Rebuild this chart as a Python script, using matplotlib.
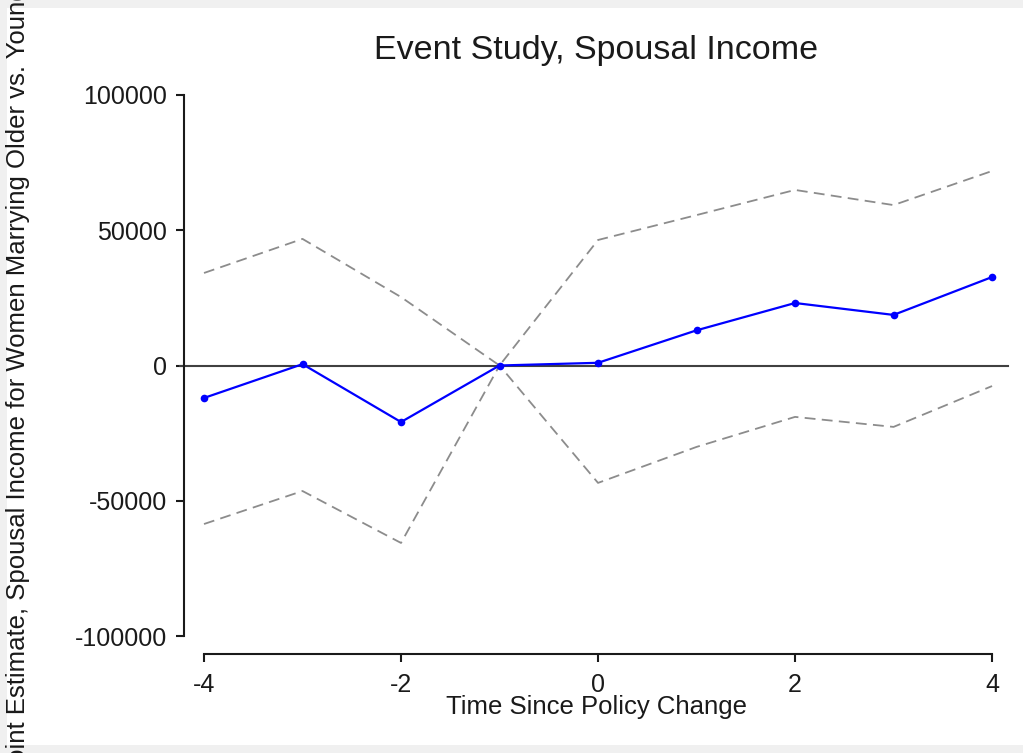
import matplotlib
matplotlib.use("Agg")
import matplotlib.pyplot as plt
from matplotlib.patches import Rectangle

# Data
time = [-4, -3, -2, -1, 0, 1, 2, 3, 4]
estimate = [-12000, 500, -20900, 0, 1000, 13000, 23100, 18700, 32700]
upper = [34200, 46800, 25300, 0, 46400, 55600, 64900, 59300, 71900]
lower = [-58600, -46400, -65600, 0, -43400, -30100, -19000, -22700, -7600]
xticks = [-4, -2, 0, 2, 4]
yticks = [-100000, -50000, 0, 50000, 100000]

plt.rcParams['font.family'] = ['Liberation Sans', 'DejaVu Sans']

W, H = 1023, 753
fig = plt.figure(figsize=(W / 100, H / 100), dpi=100)
fig.patch.set_facecolor('white')
# light gray screenshot frame
fig.patches.append(Rectangle((0, 0), 1, 1, transform=fig.transFigure,
                             facecolor='#f0f0f0', edgecolor='none', zorder=-10))
fig.patches.append(Rectangle((7 / W, 1 - 745 / H), (W - 7) / W, (745 - 8) / H,
                             transform=fig.transFigure,
                             facecolor='white', edgecolor='none', zorder=-9))

left, right, top, bottom = 184, 1008, 77, 654
ax = fig.add_axes([left / W, 1 - bottom / H, (right - left) / W, (bottom - top) / H])
ax.set_facecolor('none')

ax.plot(time, upper, color='#8c8c8c', lw=1.3, dashes=(6, 3.5))
ax.plot(time, lower, color='#8c8c8c', lw=1.3, dashes=(6, 3.5))
ax.axhline(0, color='#404040', lw=1.5, xmin=-0.005, xmax=1.0, clip_on=False)
ax.plot(time, estimate, color='#0000ff', lw=1.6, marker='o', ms=5.5,
        markeredgewidth=0)

ax.set_xlim(-4.203, 4.162)
ax.set_ylim(-106650, 106650)

for s in ['top', 'right']:
    ax.spines[s].set_visible(False)
ax.spines['left'].set_bounds(-100000, 100000)
ax.spines['bottom'].set_bounds(-4, 4)
for s in ['left', 'bottom']:
    ax.spines[s].set_linewidth(1.5)
    ax.spines[s].set_color('#1a1a1a')

ax.set_xticks(xticks)
ax.set_xticklabels([str(v) for v in xticks])
ax.set_yticks(yticks)
ax.set_yticklabels([str(v) for v in yticks])
ax.tick_params(axis='both', direction='out', length=6, width=1.5,
               labelsize=18, colors='#1a1a1a')
ax.tick_params(axis='x', pad=7.5)
ax.tick_params(axis='y', pad=6)

ax.set_title("Event Study, Spousal Income", fontsize=24.5, color='#1a1a1a', pad=13)
ax.set_xlabel("Time Since Policy Change", fontsize=18.5, color='#1a1a1a', labelpad=-1.5)
fig.text(18 / W, 0.5 + 5 / H,
         "Point Estimate, Spousal Income for Women Marrying Older vs. Younger",
         rotation=90, fontsize=18.5, color='#1a1a1a', ha='center', va='center')

fig.savefig("out.png", dpi=100)
